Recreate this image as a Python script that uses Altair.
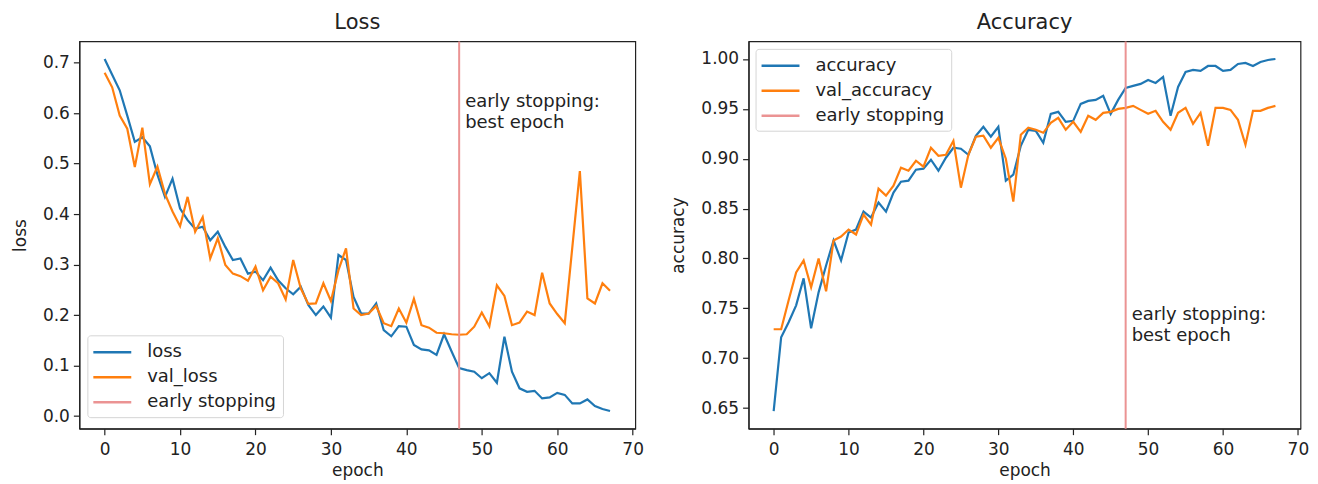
import altair as alt
import pandas as pd

# ---------------- data ----------------
epochs = list(range(68))

loss = [0.707, 0.676, 0.645, 0.595, 0.543, 0.552, 0.534, 0.478, 0.434, 0.470,
        0.411, 0.388, 0.371, 0.375, 0.348, 0.365, 0.335, 0.309, 0.312, 0.282,
        0.286, 0.269, 0.294, 0.269, 0.253, 0.241, 0.256, 0.220, 0.200, 0.217,
        0.195, 0.319, 0.309, 0.236, 0.203, 0.203, 0.223, 0.170, 0.158, 0.178,
        0.177, 0.141, 0.132, 0.130, 0.121, 0.162, 0.128, 0.095, 0.091, 0.088,
        0.075, 0.085, 0.066, 0.157, 0.088, 0.055, 0.048, 0.050, 0.035, 0.037,
        0.046, 0.042, 0.025, 0.025, 0.033, 0.020, 0.014, 0.010]

val_loss = [0.680, 0.651, 0.595, 0.569, 0.493, 0.571, 0.459, 0.494, 0.440, 0.405,
            0.376, 0.434, 0.365, 0.394, 0.312, 0.352, 0.299, 0.282, 0.277, 0.268,
            0.296, 0.249, 0.276, 0.263, 0.231, 0.309, 0.253, 0.222, 0.223, 0.263,
            0.228, 0.289, 0.332, 0.213, 0.200, 0.203, 0.218, 0.184, 0.178, 0.213,
            0.185, 0.232, 0.180, 0.175, 0.165, 0.164, 0.162, 0.161, 0.162, 0.177,
            0.205, 0.178, 0.259, 0.238, 0.180, 0.185, 0.207, 0.200, 0.284, 0.223,
            0.202, 0.184, 0.334, 0.485, 0.233, 0.223, 0.263, 0.248]

accuracy = [0.647, 0.721, 0.736, 0.753, 0.780, 0.730, 0.766, 0.793, 0.818, 0.798,
            0.826, 0.829, 0.847, 0.841, 0.856, 0.847, 0.866, 0.877, 0.878, 0.889,
            0.890, 0.899, 0.888, 0.901, 0.911, 0.910, 0.904, 0.923, 0.932, 0.922,
            0.932, 0.878, 0.884, 0.913, 0.929, 0.928, 0.916, 0.945, 0.947, 0.937,
            0.938, 0.955, 0.958, 0.959, 0.963, 0.945, 0.959, 0.971, 0.973, 0.975,
            0.979, 0.976, 0.982, 0.943, 0.972, 0.987, 0.989, 0.988, 0.993, 0.993,
            0.988, 0.989, 0.995, 0.996, 0.993, 0.997, 0.999, 1.000]

val_accuracy = [0.729, 0.729, 0.758, 0.786, 0.798, 0.771, 0.800, 0.767, 0.818, 0.822,
                0.829, 0.824, 0.844, 0.834, 0.870, 0.863, 0.873, 0.891, 0.888, 0.898,
                0.892, 0.911, 0.903, 0.904, 0.918, 0.871, 0.904, 0.922, 0.923, 0.911,
                0.921, 0.900, 0.857, 0.924, 0.931, 0.929, 0.926, 0.936, 0.941, 0.929,
                0.937, 0.927, 0.943, 0.939, 0.946, 0.947, 0.950, 0.951, 0.953, 0.949,
                0.945, 0.948, 0.937, 0.929, 0.946, 0.951, 0.935, 0.946, 0.913, 0.951,
                0.951, 0.949, 0.939, 0.914, 0.948, 0.948, 0.951, 0.953]

best_epoch = 47
x_ticks = [0, 10, 20, 30, 40, 50, 60, 70]
loss_ticks = [0.0, 0.1, 0.2, 0.3, 0.4, 0.5, 0.6, 0.7]
acc_ticks = [0.65, 0.70, 0.75, 0.80, 0.85, 0.90, 0.95, 1.00]
annotation = "early stopping:\nbest epoch"

# ---------------- styling ----------------
FONT = "DejaVu Sans"
INK = "#222222"
BLUE, ORANGE, RED = "#1f77b4", "#ff7f0e", "#eb9393"
H = 388
LINE_SYMBOL = "M-2,0H2"   # a long horizontal legend line, like matplotlib's


def padded(vals):
    lo, hi = min(vals), max(vals)
    m = 0.05 * (hi - lo)
    return [lo - m, hi + m]


def panel(title, names, s1, s2, ylabel, yticks, yfmt, lx, ly, text_y, width):
    df = pd.DataFrame({
        "epoch": epochs + epochs,
        "value": s1 + s2,
        "series": [names[0]] * len(epochs) + [names[1]] * len(epochs),
    })
    domain = [names[0], names[1], "early stopping"]
    color = alt.Color(
        "series:N",
        scale=alt.Scale(domain=domain, range=[BLUE, ORANGE, RED]),
        legend=alt.Legend(
            title=None, orient="none", legendX=lx, legendY=ly,
            symbolType=LINE_SYMBOL, symbolSize=361, symbolStrokeWidth=2.5,
            symbolOffset=8, symbolFillColor="transparent",
            labelFont=FONT, labelFontSize=18, labelColor=INK,
            labelOffset=24, rowPadding=5, padding=6,
            fillColor="white", strokeColor="#d5d5d5", cornerRadius=3,
        ),
    )
    x = alt.X("epoch:Q",
              scale=alt.Scale(domain=padded(epochs), nice=False, zero=False),
              axis=alt.Axis(values=x_ticks, format="d", title="epoch",
                            labelFlush=False, labelPadding=6.5, titlePadding=5))
    y = alt.Y("value:Q",
              scale=alt.Scale(domain=padded(s1 + s2), nice=False, zero=False),
              axis=alt.Axis(values=yticks, format=yfmt, title=ylabel,
                            labelPadding=4, titlePadding=13))

    lines = alt.Chart(df).mark_line(strokeWidth=2.2).encode(x=x, y=y, color=color)

    rule_df = pd.DataFrame({"epoch": [best_epoch], "series": ["early stopping"]})
    rule = alt.Chart(rule_df).mark_rule(strokeWidth=2).encode(x=alt.X("epoch:Q"), color=color)

    text_df = pd.DataFrame({"epoch": [best_epoch], "label": [annotation]})
    text = alt.Chart(text_df).mark_text(
        align="left", baseline="top", dx=6, lineBreak="\n", lineHeight=21,
        font=FONT, fontSize=18, color=INK,
    ).encode(x=alt.X("epoch:Q"), y=alt.value(text_y), text="label:N")

    return alt.layer(lines, rule, text).properties(
        width=width, height=H, title=alt.TitleParams(title)
    )


left = panel("Loss", ["loss", "val_loss"], loss, val_loss, "loss",
             loss_ticks, ".1f", 8, 294.5, 52, 557)
right = panel("Accuracy", ["accuracy", "val_accuracy"], accuracy, val_accuracy,
              "accuracy", acc_ticks, ".2f", 7, 7.5, 265.5, 553)

chart = (
    alt.hconcat(left, right, spacing=24.5)
    .resolve_scale(color="independent", x="independent", y="independent")
    .properties(padding={"left": 2.5, "top": 3, "right": 0, "bottom": 0})
    .configure_view(stroke=INK, strokeWidth=1.2)
    .configure_axis(
        labelFont=FONT, titleFont=FONT, labelFontSize=17, titleFontSize=17,
        labelColor=INK, titleColor=INK, titleFontWeight="normal",
        tickColor=INK, domainColor=INK, tickSize=6, tickWidth=1.2,
        domainWidth=1.2, grid=False,
    )
    .configure_title(font=FONT, fontSize=21, fontWeight="normal", color=INK, offset=7)
)

chart.save("out.html", embed_options={"renderer": "svg", "actions": False})
